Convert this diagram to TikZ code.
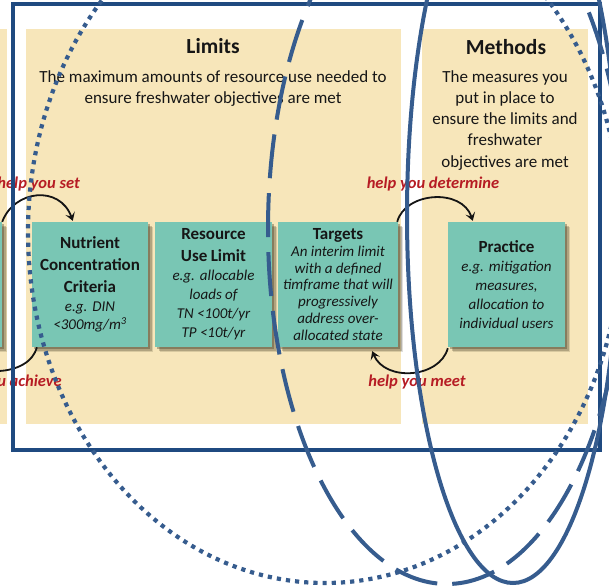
\documentclass[tikz,border=0pt]{standalone}
\usepackage{fontspec}
\setmainfont{Carlito}
\usetikzlibrary{shadows,arrows.meta,calc}

\definecolor{panelbeige}{RGB}{247,230,186}
\definecolor{boxteal}{RGB}{121,198,180}
\definecolor{helpred}{RGB}{182,28,36}
\definecolor{ovalblue}{RGB}{54,92,142}
\definecolor{frameblue}{RGB}{31,74,128}
\definecolor{inktext}{RGB}{22,22,22}
\definecolor{shadeink}{RGB}{60,52,30}

% heading and note lines inside a stage box
\newcommand\stagehead[1]{{\bfseries\fontsize{17}{22}\selectfont #1\par}}
\newcommand\stagenote[2]{{\itshape\fontsize{15}{#1}\selectfont #2\par}}

\tikzset{
  panel/.style={fill=panelbeige, draw=none, inner sep=0pt},
  paneltitle/.style={font=\bfseries\fontsize{21.5}{24}\selectfont, text=inktext, inner sep=0pt},
  panelbody/.style={font=\fontsize{17}{21.3}\selectfont, text=inktext, align=center, inner sep=0pt},
  softshadow/.style={
    drop shadow={shadow xshift=5pt, shadow yshift=-5pt, opacity=.16, fill=shadeink},
    drop shadow={shadow xshift=3.5pt, shadow yshift=-3.5pt, opacity=.25, fill=shadeink},
    drop shadow={shadow xshift=2pt, shadow yshift=-2pt, opacity=.35, fill=shadeink}},
  stagebox/.style={softshadow, fill=boxteal, draw=none, inner sep=0pt,
    minimum height=125pt, align=center, text=inktext},
  helplabel/.style={text=helpred, font=\bfseries\itshape\fontsize{16.5}{18}\selectfont, inner sep=0pt},
  flowarc/.style={draw=black!92, line width=1.8pt,
    -{Stealth[length=8pt, width=10pt, inset=3.5pt]}},
  ovalline/.style={draw=ovalblue, line width=4pt},
}

\begin{document}
\begin{tikzpicture}[x=1pt, y=-1pt]
\useasboundingbox (0,0) rectangle (609,585);

% beige stage panels
\node[panel, minimum width=207pt, minimum height=395pt] (leftPanel) at (-96.5,226.5) {};
\node[panel, minimum width=375pt, minimum height=395pt] (limitsPanel) at (213.5,226.5) {};
\node[panel, minimum width=166pt, minimum height=395pt] (methodsPanel) at (505,226.5) {};

% panel headings
\node[paneltitle, anchor=base] (limitsTitle) at (213,54) {Limits};
\node[paneltitle, anchor=base] (methodsTitle) at (506,55) {Methods};
\node[panelbody, anchor=north] (limitsText) at (213,70)
  {The maximum amounts of resource use needed to\\ensure freshwater objectives are met};
\node[panelbody, anchor=north] (methodsText) at (505,70)
  {The measures you\\put in place to\\ensure the limits and\\freshwater\\objectives are met};

% stage boxes
\node[stagebox, minimum width=117pt] (leftbox) at (-56.5,284.5) {};
\node[stagebox, minimum width=116pt, text width=114pt] (nutrient) at (90,284.5)
  {\stagehead{Nutrient\\Concentration\\Criteria}\vspace{1pt}\stagenote{18}{e.g. DIN\\<300mg/m\textsuperscript{3}}};
\node[stagebox, minimum width=117pt, text width=115pt] (resource) at (213.5,284.5)
  {\stagehead{Resource\\Use Limit}\stagenote{19}{e.g. allocable\\loads of\\TN <100t/yr\\TP <10t/yr}};
\node[stagebox, minimum width=120pt, text width=118pt] (targets) at (338,284.5)
  {\stagehead{Targets}\stagenote{16.8}{An interim limit\\with a defined\\timframe that will\\progressively\\address over-\\allocated state}};
\node[stagebox, minimum width=117pt, text width=115pt] (practice) at (506.5,284.5)
  {\stagehead{Practice}\stagenote{19}{e.g. mitigation\\measures,\\allocation to\\individual users}};

% links between the stages
\draw[flowarc] (leftbox.north east) .. controls +(12,-32) and +(-13,-36) .. ($(nutrient.north west)+(41,-1)$);
\draw[flowarc] ($(nutrient.south west)+(5,0)$) .. controls +(-7,30) and +(9,28) .. ($(leftbox.south east)+(-41,3)$);
\draw[flowarc] ($(targets.north east)+(-1,0)$) .. controls +(8,-30) and +(-11,-33) .. ($(practice.north west)+(25,-1)$);
\draw[flowarc] ($(practice.south west)+(0,1)$) .. controls +(-8,30) and +(13,31) .. ($(targets.south east)+(-26,4)$);

\node[helplabel, anchor=base east] (setLabel) at (80,189) {help you set};
\node[helplabel, anchor=base east] (achieveLabel) at (62,386.5) {you achieve};
\node[helplabel, anchor=base] (determineLabel) at (433,188.5) {help you determine};
\node[helplabel, anchor=base] (meetLabel) at (417,386.5) {help you meet};

% outline frame and the three ovals
\draw[frameblue, line width=4pt] (13,4.5) rectangle (600,450);
\draw[ovalline, line width=4.2pt, dash pattern=on 4.2pt off 5pt] (325,232) ellipse [x radius=297pt, y radius=351pt];
\draw[ovalline, dash pattern=on 44pt off 15pt] (447,229) ellipse [x radius=179pt, y radius=355pt];
\draw[ovalline] (513,215) ellipse [x radius=106pt, y radius=368pt];
\end{tikzpicture}
\end{document}
